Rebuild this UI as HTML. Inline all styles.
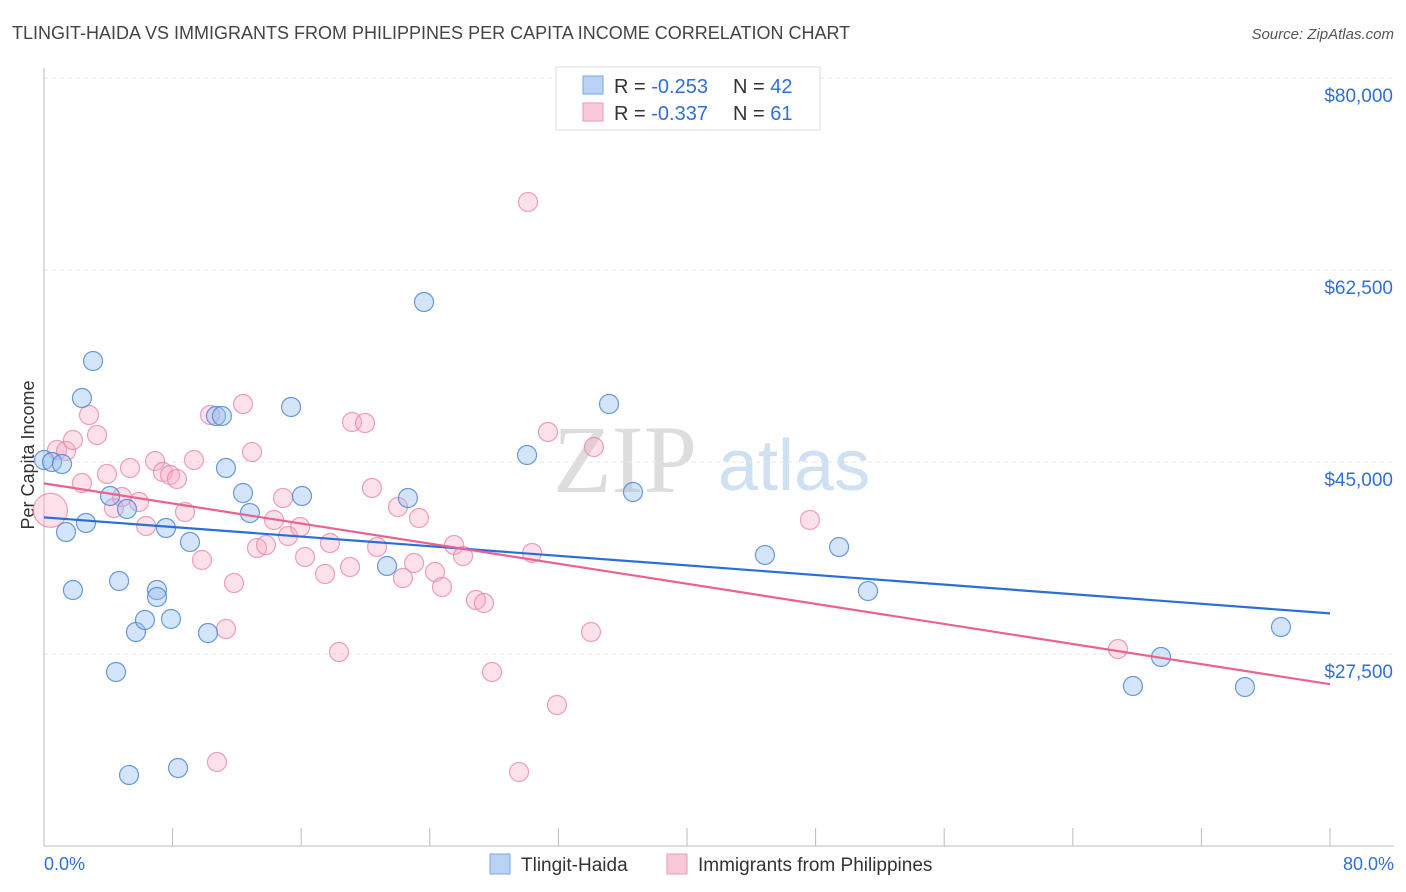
<!DOCTYPE html>
<html><head><meta charset="utf-8"><style>
body{margin:0;background:#fff;font-family:"Liberation Sans",sans-serif;}
svg{display:block}
</style></head><body>
<svg id="chart" width="1406" height="892">
<text x="12" y="39" font-size="18" fill="#444">TLINGIT-HAIDA VS IMMIGRANTS FROM PHILIPPINES PER CAPITA INCOME CORRELATION CHART</text>
<text x="1394" y="39" font-size="15" fill="#555" text-anchor="end" font-style="italic">Source: ZipAtlas.com</text>
<text x="553" y="492" font-size="96" fill="#ddd" font-family="Liberation Serif">ZIP</text>
<text x="718" y="490" font-size="72" fill="#cfe0f3">atlas</text>
<text transform="translate(34,455) rotate(-90)" font-size="18" fill="#333" text-anchor="middle">Per Capita Income</text>
<g id="grid"></g><g id="marks"></g>
<g>
<rect x="556" y="67" width="264" height="63" fill="#fff" stroke="#ddd"/>
<rect x="583" y="76" width="20" height="18" fill="#b9d3f5" stroke="#7aa6e0"/>
<rect x="583" y="103" width="20" height="18" fill="#f9c8d6" stroke="#ec98b2"/>
<text x="614" y="93" font-size="20" fill="#333">R = <tspan fill="#2f6fd6">-0.253</tspan><tspan x="733">N = </tspan><tspan fill="#2f6fd6">42</tspan></text>
<text x="614" y="120" font-size="20" fill="#333">R = <tspan fill="#2f6fd6">-0.337</tspan><tspan x="733">N = </tspan><tspan fill="#2f6fd6"> 61</tspan></text>
</g>
<text x="44" y="870" font-size="18" fill="#2f6fd6">0.0%</text>
<text x="1394" y="870" font-size="18" fill="#2f6fd6" text-anchor="end">80.0%</text>
<g>
<rect x="490" y="854" width="20" height="20" fill="#b9d3f5" stroke="#7aa6e0"/>
<text x="521" y="871" font-size="19" fill="#333">Tlingit-Haida</text>
<rect x="667" y="854" width="20" height="20" fill="#f9c8d6" stroke="#ec98b2"/>
<text x="698" y="871" font-size="19" fill="#333">Immigrants from Philippines</text>
</g>
</svg>
<script>
const yTicks=[27500,45000,62500,80000];
const yTickLabels=["$27,500","$45,000","$62,500","$80,000"];
const xTicks=[0,8,16,24,32,40,48,56,64,72,80];
const bluePx=[[44,460],[52,462],[62,464],[82,398],[93,361],[66,532],[86,523],[73,590],[119,581],[116,672],[110,496],[127,509],[136,632],[145,620],[157,590],[157,597],[166,528],[171,619],[129,775],[178,768],[190,542],[208,633],[216,416],[222,416],[226,468],[243,493],[250,513],[291,407],[302,496],[387,566],[408,498],[424,302],[527,455],[609,404],[633,492],[765,555],[839,547],[868,591],[1133,686],[1161,657],[1245,687],[1281,627]];
const pinkPx=[[57,450],[66,451],[73,440],[82,483],[89,415],[97,435],[107,474],[114,508],[122,497],[130,468],[139,502],[146,526],[155,461],[163,472],[170,475],[177,479],[185,512],[194,460],[202,560],[210,415],[226,629],[217,762],[234,583],[243,404],[252,452],[257,548],[266,545],[274,520],[283,498],[288,536],[300,527],[305,557],[325,574],[330,543],[339,652],[350,567],[352,422],[365,423],[372,488],[377,547],[398,507],[403,578],[414,563],[419,518],[435,572],[442,587],[454,545],[463,556],[476,600],[484,603],[492,672],[519,772],[528,202],[532,553],[548,432],[557,705],[591,632],[594,447],[810,520],[1118,649]];
const blueX=bluePx.map(p=>+((p[0]-44)/1286*80).toFixed(2));
const blueY=bluePx.map(p=>Math.round(27500+(654-p[1])*17500/192));
const pinkX=pinkPx.map(p=>+((p[0]-44)/1286*80).toFixed(2));
const pinkY=pinkPx.map(p=>Math.round(27500+(654-p[1])*17500/192));
const pinkBigX=[0.4], pinkBigY=[40600];
const blueTrend=[39950,31200];
const pinkTrend=[43050,24750];
const X=v=>44+v/80*1286;
const Y=v=>654-(v-27500)*192/17500;
const NS="http://www.w3.org/2000/svg";
const grid=document.getElementById('grid'), marks=document.getElementById('marks');
function mk(tag,at,parent){const e=document.createElementNS(NS,tag);for(const k in at)e.setAttribute(k,at[k]);parent.appendChild(e);return e;}
yTicks.forEach((t,i)=>{
 const l=mk('line',{x1:44,x2:1394,y1:Y(t),y2:Y(t),stroke:'#e6e6e6','stroke-dasharray':'4,4'},grid);
 
 
 const tx=mk('text',{x:1393,y:Y(t)+24,'font-size':19,fill:'#2f6fd6','text-anchor':'end'},grid);
 tx.textContent=yTickLabels[i];
 
 
});
mk('line',{x1:44,x2:44,y1:68,y2:846,stroke:'#bbb'},grid);
mk('line',{x1:44,x2:1394,y1:846,y2:846,stroke:'#bbb'},grid);
xTicks.forEach(t=>{
 const l=mk('line',{x1:X(t),x2:X(t),y1:828,y2:846,stroke:'#bbb'},grid);
 
 
});
function dots(xs,ys,fill,stroke,name,r){
 xs.forEach((x,i)=>{
  const c=mk('circle',{cx:X(x),cy:Y(ys[i]),r:r,fill:fill,stroke:stroke,'stroke-width':1.2},marks);
  
  
 });
}
dots(pinkX,pinkY,'rgba(246,170,195,0.35)','rgba(232,130,165,0.75)','philippines-point',9.5);
dots(pinkBigX,pinkBigY,'rgba(246,170,195,0.35)','rgba(232,130,165,0.75)','philippines-point',17);
dots(blueX,blueY,'rgba(150,190,240,0.4)','rgba(70,130,210,0.8)','tlingit-point',9.5);
const bl=mk('line',{x1:X(0),x2:X(80),y1:Y(blueTrend[0]),y2:Y(blueTrend[1]),stroke:'#2a6fd8','stroke-width':2.2},marks);


const pl=mk('line',{x1:X(0),x2:X(80),y1:Y(pinkTrend[0]),y2:Y(pinkTrend[1]),stroke:'#e8638f','stroke-width':2.2},marks);


</script>
</body></html>
